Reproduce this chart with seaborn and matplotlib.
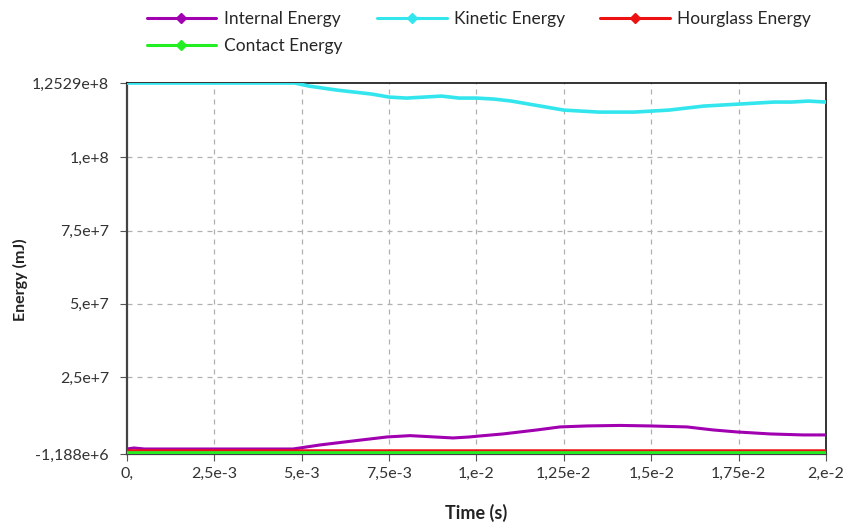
import numpy as np
import pandas as pd
import matplotlib
matplotlib.use("Agg")
import matplotlib.pyplot as plt
from matplotlib.lines import Line2D
import seaborn as sns

# ---- data (time in s, energy in mJ) ----
t_kinetic = [0.0, 0.0048, 0.0052, 0.006, 0.007, 0.0075, 0.008, 0.0085, 0.009, 0.0095,
             0.010, 0.0105, 0.011, 0.0115, 0.012, 0.0125, 0.013, 0.0135, 0.014, 0.0145,
             0.015, 0.0155, 0.016, 0.0165, 0.017, 0.0175, 0.018, 0.0185, 0.019, 0.0195, 0.020]
kinetic = [1.2529e8, 1.2529e8, 1.2425e8, 1.2288e8, 1.2152e8, 1.2049e8, 1.2015e8, 1.2049e8,
           1.2083e8, 1.2015e8, 1.2015e8, 1.1981e8, 1.1913e8, 1.1810e8, 1.1708e8, 1.1605e8,
           1.1571e8, 1.1537e8, 1.1537e8, 1.1537e8, 1.1571e8, 1.1605e8, 1.1673e8, 1.1742e8,
           1.1776e8, 1.1810e8, 1.1844e8, 1.1879e8, 1.1879e8, 1.1913e8, 1.1879e8]

t_internal = [0.0, 0.0002, 0.0005, 0.00475, 0.00552, 0.00647, 0.00744, 0.0081, 0.00933,
              0.0098, 0.0101, 0.01076, 0.01173, 0.01239, 0.01316, 0.01411, 0.01496,
              0.01602, 0.01677, 0.01745, 0.0184, 0.01934, 0.020]
internal = [0.52e6, 0.86e6, 0.52e6, 0.52e6, 1.89e6, 3.26e6, 4.62e6, 5.07e6, 4.28e6,
            4.62e6, 4.96e6, 5.65e6, 7.01e6, 8.04e6, 8.38e6, 8.55e6, 8.38e6,
            8.04e6, 7.01e6, 6.33e6, 5.65e6, 5.31e6, 5.31e6]

t_flat = [0.0, 0.020]
hourglass = [0.18e6, 0.18e6]
contact = [-0.68e6, -0.68e6]

x_ticks = [0.0, 0.0025, 0.005, 0.0075, 0.01, 0.0125, 0.015, 0.0175, 0.02]
x_labels = ["0,", "2,5e-3", "5,e-3", "7,5e-3", "1,e-2", "1,25e-2", "1,5e-2", "1,75e-2", "2,e-2"]
y_ticks = [-1.188e6, 2.5e7, 5e7, 7.5e7, 1e8, 1.2529e8]
y_labels = ["-1,188e+6", "2,5e+7", "5,e+7", "7,5e+7", "1,e+8", "1,2529e+8"]

series = ["Internal Energy", "Kinetic Energy", "Hourglass Energy", "Contact Energy"]
colors = ["#a000b0", "#33e6ee", "#ee1111", "#22ee22"]

df = pd.concat([
    pd.DataFrame({"Time": t_internal, "Energy": internal, "Series": series[0]}),
    pd.DataFrame({"Time": t_kinetic, "Energy": kinetic, "Series": series[1]}),
    pd.DataFrame({"Time": t_flat, "Energy": hourglass, "Series": series[2]}),
    pd.DataFrame({"Time": t_flat, "Energy": contact, "Series": series[3]}),
])

sns.set_theme(style="white")
plt.rcParams["font.family"] = ["Lato", "DejaVu Sans"]

fig = plt.figure(figsize=(8.45, 5.24), dpi=100)
ax = fig.add_axes([0.1503, 0.1336, 0.8272, 0.708])

widths = [2.2, 2.6, 1.8, 2.6]
for name, col, lw in zip(series, colors, widths):
    sns.lineplot(data=df[df["Series"] == name], x="Time", y="Energy", color=col,
                 linewidth=lw, ax=ax, legend=False, estimator=None, zorder=3)

ax.set_xlim(0, 0.02)
ax.set_ylim(-1.188e6, 1.2529e8)
ax.set_xticks(x_ticks)
ax.set_xticklabels(x_labels)
ax.set_yticks(y_ticks)
ax.set_yticklabels(y_labels)
ax.tick_params(axis="both", labelsize=11.5, colors="#555555", length=5, width=0.8,
               direction="out", bottom=True, left=True, labelcolor="#333333")
ax.tick_params(axis="y", pad=8)
ax.tick_params(axis="x", pad=4)

# dashed grid on inner ticks only
for xv in x_ticks[1:-1]:
    ax.axvline(xv, color="#b0b0b0", linestyle=(0, (4, 4)), linewidth=0.9, zorder=1)
for yv in y_ticks[1:-1]:
    ax.axhline(yv, color="#b0b0b0", linestyle=(0, (4, 4)), linewidth=0.9, zorder=1)

for side in ["left", "bottom"]:
    ax.spines[side].set_color("#444444")
    ax.spines[side].set_linewidth(1.6)
for side in ["top", "right"]:
    ax.spines[side].set_color("#111111")
    ax.spines[side].set_linewidth(1.2)

ax.set_xlabel("Time (s)", fontsize=13, fontweight="bold", color="#222222")
ax.set_ylabel("Energy (mJ)", fontsize=11.5, fontweight="bold", color="#222222")
ax.xaxis.set_label_coords(0.5, -0.135)
ax.yaxis.set_label_coords(-0.142, 0.47)

# legend filled row by row: matplotlib fills columns, so reorder
order = [0, 3, 1, 2]
handles = [Line2D([0], [0], color=colors[i], linewidth=2.2, marker="D", markersize=5)
           for i in order]
labels = [series[i] for i in order]
fig.legend(handles, labels, ncol=3, loc="upper left", bbox_to_anchor=(0.155, 1.008),
           frameon=False, fontsize=12.5, handlelength=4.0, columnspacing=2.0,
           handletextpad=0.45, labelspacing=0.6)

fig.savefig("out.png", dpi=100)
